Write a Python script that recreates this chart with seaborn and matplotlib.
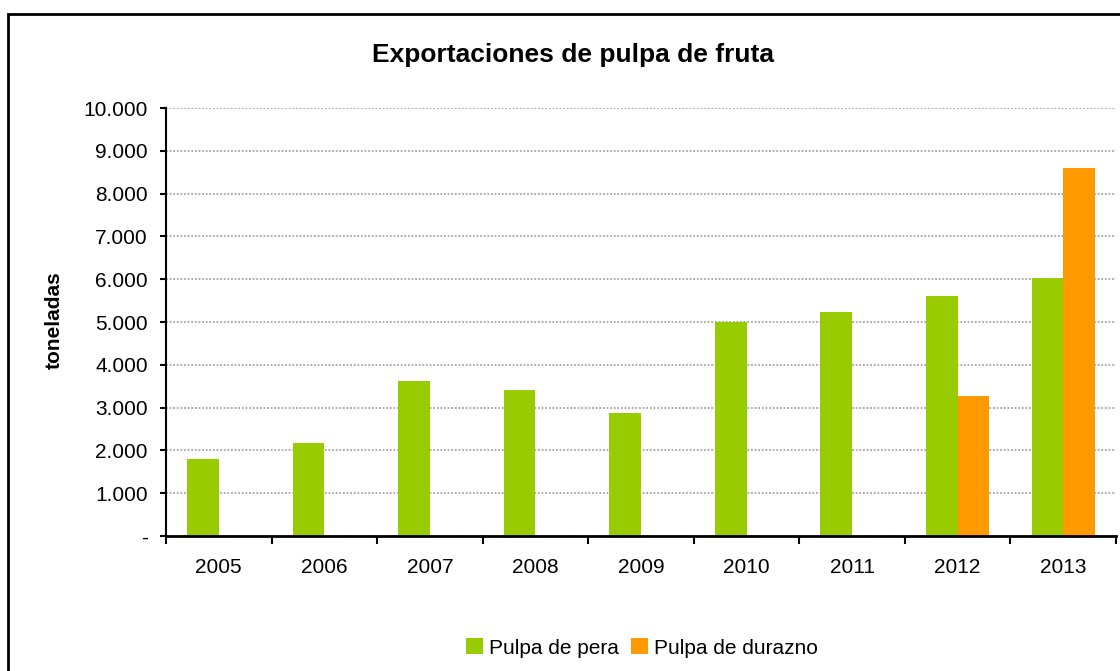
import pandas as pd
import numpy as np
import matplotlib.pyplot as plt
import seaborn as sns
from matplotlib.patches import Rectangle, Patch
from matplotlib.ticker import FixedLocator, FuncFormatter

# data
years = ['2005', '2006', '2007', '2008', '2009', '2010', '2011', '2012', '2013']
pera = [1800, 2180, 3630, 3400, 2880, 5000, 5230, 5600, 6020]
durazno = [0, 0, 0, 0, 0, 0, 0, 3260, 8600]
series = ['Pulpa de pera', 'Pulpa de durazno']
colors = ['#99CC00', '#FF9900']

df = pd.DataFrame({
    'year': years * 2,
    'serie': [series[0]] * len(years) + [series[1]] * len(years),
    'toneladas': pera + durazno,
})

sns.set_style('white')
plt.rcParams['font.family'] = ['Liberation Sans', 'DejaVu Sans']
plt.rcParams['text.color'] = 'black'
plt.rcParams['xtick.color'] = 'black'
plt.rcParams['ytick.color'] = 'black'

fig = plt.figure(figsize=(11.2, 6.71), dpi=100)
ax = fig.add_axes([166 / 1120, 135 / 671, 950 / 1120, 428 / 671])

sns.barplot(data=df, x='year', y='toneladas', hue='serie', palette=colors,
            width=0.6, linewidth=0, saturation=1, ax=ax, legend=False)

ax.set_ylim(0, 10000)
ax.set_xlim(-0.5, len(years) - 0.5)
ax.set_yticks(np.arange(0, 10001, 1000))
ax.yaxis.set_major_formatter(FuncFormatter(
    lambda v, p: '-' if v == 0 else f'{v:,.0f}'.replace(',', '.')))
ax.tick_params(axis='y', labelsize=15, length=4.5, width=1.5, pad=8.5, direction='out', left=True)
ax.tick_params(axis='x', which='major', labelsize=15, length=0, pad=16)
ax.xaxis.set_minor_locator(FixedLocator(np.arange(-0.5, len(years), 1.0)))
ax.tick_params(axis='x', which='minor', length=6, width=1.5, direction='out', bottom=True)
ax.set_xlabel('')
ax.set_ylabel('')

ax.yaxis.grid(True, color='#a6a6a6', linestyle=(0, (1, 1)), linewidth=1.3)
ax.set_axisbelow(True)
for s in ['top', 'right']:
    ax.spines[s].set_visible(False)
ax.spines['left'].set_color('black')
ax.spines['left'].set_linewidth(1.5)
ax.spines['bottom'].set_color('black')
ax.spines['bottom'].set_linewidth(2)

# titles
fig.text(573 / 1120, 1 - 55 / 671, 'Exportaciones de pulpa de fruta', ha='center', va='center',
         fontsize=19, fontweight='bold')
fig.text(54 / 1120, 1 - 320 / 671, 'toneladas', rotation=90, ha='center', va='center',
         fontsize=15, fontweight='bold')

# legend
handles = [Patch(facecolor=c, edgecolor='none') for c in colors]
fig.legend(handles, series, loc='center', bbox_to_anchor=(642 / 1120, 1 - 648 / 671), ncol=2,
           frameon=False, fontsize=15, handlelength=0.8, handleheight=0.8,
           handletextpad=0.3, columnspacing=0.6)

# outer chart border
fig.patches.append(Rectangle((8 / 1120, -0.1), 1.2, 1 - 14 / 671 + 0.1, transform=fig.transFigure,
                             fill=False, edgecolor='black', linewidth=2, zorder=10))

plt.savefig('out.png', dpi=100)
